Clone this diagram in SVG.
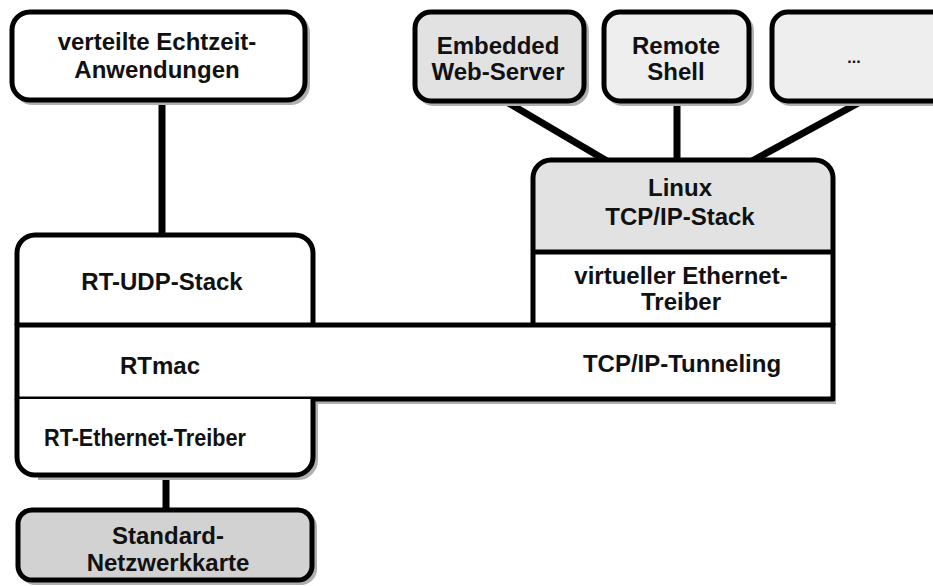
<svg xmlns="http://www.w3.org/2000/svg" width="933" height="586" viewBox="0 0 933 586">
<style>
.box{stroke:#000;stroke-width:5;stroke-linejoin:round}
.w{fill:#fff}
.g1{fill:#e2e2e2}
.g2{fill:#eeeeee}
.g3{fill:#d2d2d2}
.sh{fill:none;stroke:#b0b0b0;stroke-width:4}
.t{font-family:"Liberation Sans",Arial,sans-serif;font-weight:bold;font-size:24px;fill:#111;text-anchor:middle}
.con{stroke:#000;stroke-width:7;fill:none;stroke-linecap:butt}
</style>
<rect width="933" height="586" fill="#fff"/>
<g id="connectors">
<line class="con" x1="162" y1="100" x2="162" y2="236"/>
<line class="con" x1="166" y1="475" x2="166" y2="511"/>
<line class="con" x1="505" y1="101" x2="607" y2="161"/>
<line class="con" x1="677" y1="101" x2="677" y2="161"/>
<line class="con" x1="862" y1="101" x2="752" y2="161"/>
</g>
<g id="n-anwendungen">
<rect class="sh" x="15" y="15" width="293" height="88" rx="18"/>
<rect class="box w" x="12" y="12" width="293" height="88" rx="18"/>
<text class="t" x="157" y="50">verteilte Echtzeit-</text>
<text class="t" x="157" y="78">Anwendungen</text>
</g>
<g id="n-webserver">
<rect class="sh" x="418" y="15" width="169" height="89" rx="16"/>
<rect class="box g1" x="415" y="12" width="169" height="89" rx="16"/>
<text class="t" x="498" y="54">Embedded</text>
<text class="t" x="498" y="80">Web-Server</text>
</g>
<g id="n-shell">
<rect class="sh" x="607" y="15" width="145" height="89" rx="16"/>
<rect class="box g2" x="604" y="12" width="145" height="89" rx="16"/>
<text class="t" x="676" y="54">Remote</text>
<text class="t" x="676" y="80">Shell</text>
</g>
<g id="n-more">
<rect class="sh" x="775" y="15" width="200" height="89" rx="16"/>
<rect class="box g2" x="772" y="12" width="200" height="89" rx="16"/>
<text class="t" x="854" y="63" style="font-size:16px">...</text>
</g>
<g id="n-udp">
<path class="box w" d="M17,325 V253 A18,18 0 0 1 35,235 H295 A18,18 0 0 1 313,253 V325"/>
<text class="t" x="162" y="290">RT-UDP-Stack</text>
</g>
<g id="n-linux">
<path class="g1" d="M533,252 V178 A18,18 0 0 1 551,160 H815 A18,18 0 0 1 833,178 V252 Z"/>
<rect class="w" x="533" y="252" width="300" height="73"/>
<path class="box" fill="none" d="M533,325 V178 A18,18 0 0 1 551,160 H815 A18,18 0 0 1 833,178 V325"/>
<line class="box" x1="533" y1="252" x2="833" y2="252"/>
<text class="t" x="680" y="196">Linux</text>
<text class="t" x="680" y="225">TCP/IP-Stack</text>
<text class="t" x="681" y="284">virtueller Ethernet-</text>
<text class="t" x="681" y="310">Treiber</text>
</g>
<g id="n-rtmac">
<line class="sh" x1="20" y1="402" x2="836" y2="402"/>
<rect class="box w" x="17" y="325" width="816" height="74"/>
<text class="t" x="160" y="374">RTmac</text>
<text class="t" x="682" y="372">TCP/IP-Tunneling</text>
</g>
<g id="n-ethernet">
<path class="sh" d="M316,402 V460 A18,18 0 0 1 298,478 H38"/>
<path class="box w" d="M17,399 V457 A18,18 0 0 0 35,475 H295 A18,18 0 0 0 313,457 V399"/>
<text class="t" x="145" y="446" textLength="202" lengthAdjust="spacingAndGlyphs">RT-Ethernet-Treiber</text>
</g>
<g id="n-karte">
<rect class="sh" x="21" y="513" width="294" height="70" rx="14"/>
<rect class="box g3" x="18" y="510" width="294" height="70" rx="14"/>
<text class="t" x="168" y="544">Standard-</text>
<text class="t" x="168" y="571">Netzwerkkarte</text>
</g>
</svg>
